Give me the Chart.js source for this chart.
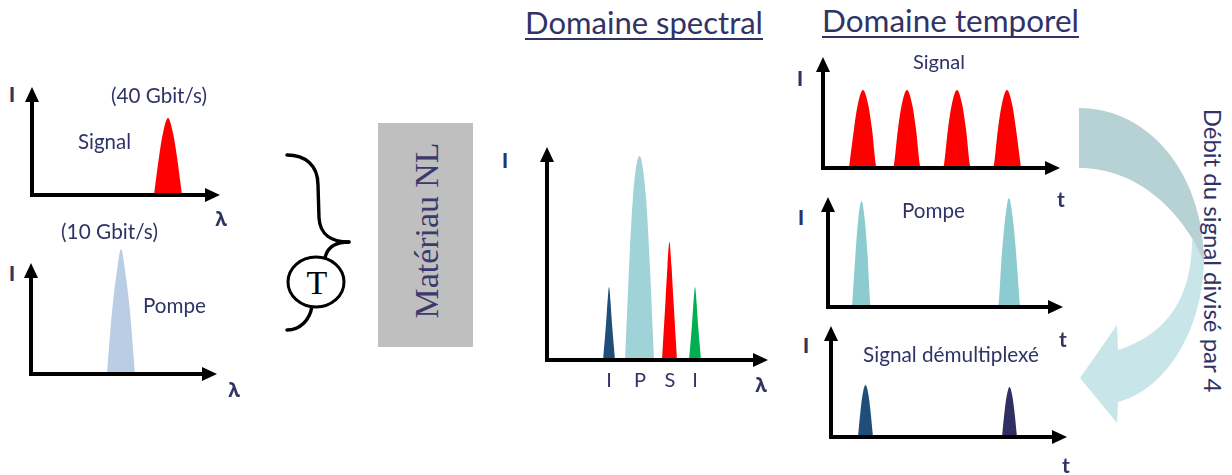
<!DOCTYPE html>
<html><head><meta charset="utf-8">
<script src="https://cdn.jsdelivr.net/npm/chart.js@4"></script>
<style>
html,body{margin:0;padding:0;background:#fff;}
body{width:1232px;height:475px;position:relative;overflow:hidden;}
canvas{position:absolute;}
.t{position:absolute;white-space:nowrap;color:#313366;left:0;top:0;}
.ul{position:absolute;background:#313366;height:1.5px;}
</style></head><body>
<svg id="deco" width="1232" height="475" style="position:absolute;left:0;top:0">
  <rect x="378" y="123" width="95" height="224" fill="#bfbfbf"/>
  <g fill="none" stroke="#000" stroke-width="3.4" stroke-linecap="round">
    <path d="M287 155 C305 155 318 165 318 185 L319 218 C320 235 332 242 349 242"/>
    <path d="M349 242 C335 242 327 248 325 258"/>
    <path d="M312 306 C310 320 300 330 287 330"/>
  </g>
  <ellipse cx="316" cy="282" rx="28" ry="25" fill="#fff" stroke="#000" stroke-width="3"/>
  <text x="317" y="294" font-family="Liberation Serif, serif" font-size="34" text-anchor="middle" fill="#000">T</text>
  <path d="M1192 240 L1204 250 C1206 330 1165 390 1118 402 L1117 423 L1080 378 L1117 325 L1118 350 C1165 335 1192 300 1192 240 Z" fill="#c8e6e9"/>
  <path d="M1079 108 C1150 108 1204 175 1204 262 C1185 215 1140 168 1079 168 Z" fill="#b6d2d4"/>
</svg>
<script>
// ---------- data (intensity profiles) ----------
// Spectrum of the input signal (40 Gbit/s)
const specSignalX = [122, 127, 131, 136, 141, 145, 150];
const specSignalY = [0, 38, 62, 77, 62, 38, 0];
// Spectrum of the input pump (10 Gbit/s)
const specPumpX = [76, 81, 85.5, 90, 94.5, 99, 104];
const specPumpY = [0, 62, 100, 125, 100, 62, 0];
// Output spectrum: idler I, pump P, signal S, idler I
const spectralLabels = ['I', 'P', 'S', 'I'];
const spIdler1X = [56, 59, 60.5, 62, 63.5, 65, 68];
const spIdler1Y = [0, 36, 58, 73, 58, 36, 0];
const spPumpX = [78, 82.5, 86, 92.5, 99, 102.5, 107];
const spPumpY = [0, 102, 163, 204, 163, 102, 0];
const spSignalX = [115, 118.5, 120.5, 122.5, 124.5, 126.5, 130];
const spSignalY = [0, 59, 94, 118, 94, 59, 0];
const spIdler2X = [142, 145, 146.5, 148, 149.5, 151, 154];
const spIdler2Y = [0, 36, 58, 73, 58, 36, 0];
// Time domain: signal (4 pulses)
const tSignalX = [26, 31, 34.5, 40, 45.5, 49, 54,
                  70, 75, 78.5, 84, 89.5, 93, 98,
                  120, 125, 128.5, 134, 139.5, 143, 148,
                  170, 175, 178.5, 184, 189.5, 193, 198];
const tSignalY = [0, 39, 62, 78, 62, 39, 0,
                  0, 39, 62, 78, 62, 39, 0,
                  0, 39, 62, 78, 62, 39, 0,
                  0, 39, 62, 78, 62, 39, 0];
// Time domain: pump (2 pulses)
const tPumpX = [24, 27.5, 30, 33.5, 37, 39.5, 43,
                170, 174, 177, 181, 185, 188, 192];
const tPumpY = [0, 53, 85, 106, 85, 53, 0,
                0, 55, 87, 109, 87, 55, 0];
// Time domain: demultiplexed signal
const tDemux1X = [27, 29.5, 31.5, 34.5, 37.5, 39.5, 42];
const tDemux1Y = [0, 26, 42, 52, 42, 26, 0];
const tDemux2X = [171, 173.5, 175.5, 178.5, 181.5, 183.5, 186];
const tDemux2Y = [0, 25, 40, 50, 40, 25, 0];

// ---------- helpers ----------
const pts = (xs, ys) => xs.map((x, i) => ({x, y: ys[i]}));

const arrowAxes = {
  id: 'arrowAxes',
  afterDatasetsDraw(chart, args, opts) {
    const {ctx, scales: {x, y}} = chart;
    const x0 = x.getPixelForValue(0), y0 = y.getPixelForValue(0);
    const xe = x.getPixelForValue(opts.xArrow), ye = y.getPixelForValue(opts.yArrow);
    const L = 15, H = 7, lw = 4;
    ctx.save();
    ctx.fillStyle = '#000'; ctx.strokeStyle = '#000'; ctx.lineWidth = lw;
    ctx.beginPath();
    ctx.moveTo(x0, ye + L - 1); ctx.lineTo(x0, y0 + lw / 2);
    ctx.moveTo(x0 - lw / 2, y0); ctx.lineTo(xe - L + 1, y0);
    ctx.stroke();
    ctx.beginPath(); ctx.moveTo(x0, ye); ctx.lineTo(x0 - H, ye + L); ctx.lineTo(x0 + H, ye + L); ctx.closePath(); ctx.fill();
    ctx.beginPath(); ctx.moveTo(xe, y0); ctx.lineTo(xe - L, y0 - H); ctx.lineTo(xe - L, y0 + H); ctx.closePath(); ctx.fill();
    ctx.restore();
  }
};

function makeChart(cfg) {
  const pad = 12;
  const yMax = cfg.yMax;
  const c = document.createElement('canvas');
  c.width = cfg.xArrow + 2 * pad; c.height = yMax + 2 * pad;
  c.style.left = (cfg.ox - pad) + 'px'; c.style.top = (cfg.oy - yMax - pad) + 'px';
  document.body.appendChild(c);
  new Chart(c, {
    type: 'line',
    data: {
      datasets: cfg.series.map(s => ({
        data: pts(s.x, s.y), fill: 'origin', backgroundColor: s.color,
        borderWidth: 0, pointRadius: 0, cubicInterpolationMode: 'monotone'
      }))
    },
    options: {
      responsive: false, animation: false, devicePixelRatio: 1, events: [],
      layout: {padding: pad},
      scales: {
        x: {type: 'linear', min: 0, max: cfg.xArrow, display: false},
        y: {type: 'linear', min: 0, max: yMax, display: false}
      },
      plugins: {legend: {display: false}, tooltip: {enabled: false},
        arrowAxes: {xArrow: cfg.xArrow, yArrow: cfg.yArrow}}
    },
    plugins: [arrowAxes]
  });
}

makeChart({ox: 32, oy: 195, xArrow: 188, yArrow: 108, yMax: 108,
  series: [{x: specSignalX, y: specSignalY, color: '#ff0000'}]});
makeChart({ox: 31, oy: 374, xArrow: 186, yArrow: 111, yMax: 127,
  series: [{x: specPumpX, y: specPumpY, color: '#b9cde5'}]});
makeChart({ox: 547, oy: 360, xArrow: 221, yArrow: 213, yMax: 213,
  series: [{x: spIdler1X, y: spIdler1Y, color: '#1f4e79'},
           {x: spPumpX, y: spPumpY, color: '#a0d3d8'},
           {x: spSignalX, y: spSignalY, color: '#ff0000'},
           {x: spIdler2X, y: spIdler2Y, color: '#00b050'}]});
makeChart({ox: 823, oy: 168, xArrow: 237, yArrow: 111, yMax: 111,
  series: [{x: tSignalX, y: tSignalY, color: '#ff0000'}]});
makeChart({ox: 828, oy: 307, xArrow: 235, yArrow: 110, yMax: 110,
  series: [{x: tPumpX, y: tPumpY, color: '#8ccbcf'}]});
makeChart({ox: 831, oy: 437, xArrow: 236, yArrow: 111, yMax: 111,
  series: [{x: tDemux1X, y: tDemux1Y, color: '#1f4e79'},
           {x: tDemux2X, y: tDemux2Y, color: '#2f2f62'}]});

// ---------- text ----------
const mctx = document.createElement('canvas').getContext('2d');
function addText(str, o) {
  const fam = o.fam || 'Lato, sans-serif';
  const wt = o.weight || 'normal';
  const el = document.createElement('div');
  el.className = 't'; el.textContent = str;
  el.style.fontFamily = fam; el.style.fontWeight = wt;
  el.style.fontSize = '100px'; el.style.lineHeight = '100px';
  if (o.color) el.style.color = o.color;
  document.body.appendChild(el);
  const w100 = el.getBoundingClientRect().width;
  mctx.font = wt + ' 100px ' + fam;
  const m = mctx.measureText(str);
  const S = o.size || 100 * o.width / w100;
  const a = m.fontBoundingBoxAscent * S / 100, d = m.fontBoundingBoxDescent * S / 100;
  const b = (S - (a + d)) / 2 + a;
  el.style.fontSize = S + 'px'; el.style.lineHeight = S + 'px';
  const W = el.getBoundingClientRect().width;
  if (!o.rot) {
    el.style.left = (o.cx - W / 2) + 'px'; el.style.top = (o.base - b) + 'px';
  } else {
    const cxBox = o.rot === 90 ? o.base + (b - S / 2) : o.base - (b - S / 2);
    el.style.left = (cxBox - W / 2) + 'px'; el.style.top = (o.cy - S / 2) + 'px';
    el.style.width = (W + 1) + 'px'; el.style.transform = 'rotate(' + o.rot + 'deg)';
  }
}
function underline(x1, x2, y) {
  const u = document.createElement('div'); u.className = 'ul';
  u.style.left = x1 + 'px'; u.style.top = y + 'px'; u.style.width = (x2 - x1) + 'px';
  document.body.appendChild(u);
}

addText('(40 Gbit/s)', {cx: 159, base: 103, width: 96});
addText('Signal', {cx: 104.5, base: 149, width: 53});
addText('(10 Gbit/s)', {cx: 109.5, base: 240, width: 97});
addText('Pompe', {cx: 174.5, base: 313, width: 63});
addText('Domaine spectral', {cx: 644, base: 35, width: 238});
underline(525, 763, 38);
addText('Domaine temporel', {cx: 950.5, base: 33, width: 257});
underline(822, 1079, 36);
addText('Signal', {cx: 939, base: 69, width: 52});
addText('Pompe', {cx: 933.5, base: 218, width: 63});
addText('Signal démultiplexé', {cx: 951, base: 362, width: 176});
addText('Débit du signal divisé par 4', {rot: 90, base: 1203, cy: 251, size: 24});
addText('Matériau NL', {rot: -90, base: 437, cy: 230, width: 176, fam: '"Liberation Serif", serif', color: '#3a3a6c'});

// axis labels
[[12, 102], [12, 281], [505, 168], [800, 86], [801, 225], [806, 353]]
  .forEach(([cx, base]) => addText('I', {cx, base, size: 20, weight: '900'}));
[[221, 227], [234, 398], [761, 393]]
  .forEach(([cx, base]) => addText('λ', {cx, base, size: 19, weight: 'bold', fam: '"Open Sans", sans-serif'}));
[[1061, 207], [1063, 347], [1066, 473]]
  .forEach(([cx, base]) => addText('t', {cx, base, size: 21, weight: 'bold'}));
// spectral position labels
[609, 640, 670, 695].forEach((cx, i) => addText(spectralLabels[i], {cx, base: 387, size: 20}));
</script>
</body></html>
